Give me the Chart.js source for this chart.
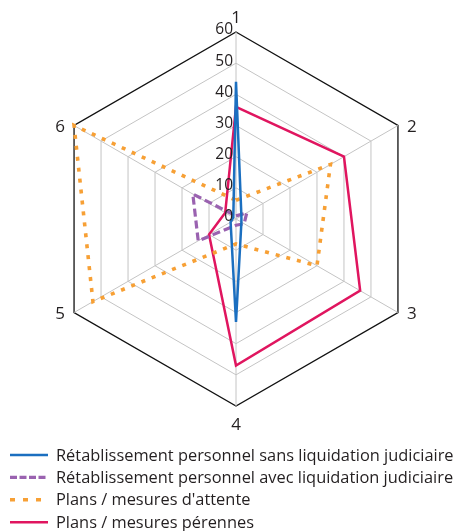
<!DOCTYPE html>
<html>
<head>
<meta charset="utf-8">
<script src="https://cdn.jsdelivr.net/npm/chart.js@4.4.1/dist/chart.umd.min.js"></script>
<style>
  html, body { margin: 0; padding: 0; background: #fff; }
  #wrap { width: 462px; height: 531px; }
</style>
</head>
<body>
<div id="wrap"><canvas id="radar"></canvas></div>
<script>
// axes of the radar
const axisLabels = ['1', '2', '3', '4', '5', '6'];
const tickValues = [0, 10, 20, 30, 40, 50, 60];

// series
const sansLiquidation = [44, 2, 2, 33, 2, 1];
const avecLiquidation = [1, 4, 3, 2, 14, 16];
const mesuresAttente = [6, 35, 30, 8, 53, 60];
const mesuresPerennes = [36, 40, 46, 47, 10, 4];

const seriesNames = [
  'Rétablissement personnel sans liquidation judiciaire',
  'Rétablissement personnel avec liquidation judiciaire',
  "Plans / mesures d'attente",
  'Plans / mesures pérennes'
];

const FONT = '"Open Sans", "Noto Sans", sans-serif';
const TEXT = '#231f20';

// draws tick numbers, axis numbers and the one-per-line legend
const labelsPlugin = {
  id: 'labels',
  afterDraw(chart) {
    const ctx = chart.ctx;
    const r = chart.scales.r;
    ctx.save();
    ctx.fillStyle = TEXT;

    // tick values, to the left of axis 1
    ctx.font = '15.5px ' + FONT;
    ctx.textAlign = 'right';
    ctx.textBaseline = 'middle';
    tickValues.forEach(v => {
      const d = r.getDistanceFromCenterForValue(v);
      ctx.fillText(String(v), r.xCenter - 3, r.yCenter - d - 2);
    });

    // axis numbers
    ctx.font = '17px ' + FONT;
    ctx.textAlign = 'center';
    axisLabels.forEach((lab, i) => {
      const p = r.getPointPosition(i, r.drawingArea);
      let x = p.x, y = p.y;
      if (Math.abs(p.x - r.xCenter) < 1) {
        y += (p.y < r.yCenter) ? -14 : 19;
      } else {
        x += (p.x > r.xCenter) ? 14 : -14;
        y += 2;
      }
      ctx.fillText(lab, x, y);
    });

    // legend
    ctx.font = '16.4px ' + FONT;
    ctx.textAlign = 'left';
    chart.data.datasets.forEach((ds, i) => {
      const y = 455 + i * 22.4;
      ctx.save();
      ctx.strokeStyle = ds.borderColor;
      ctx.lineWidth = ds.borderWidth;
      ctx.setLineDash(ds.legendDash || []);
      ctx.beginPath();
      ctx.moveTo(10, y);
      ctx.lineTo(48, y);
      ctx.stroke();
      ctx.restore();
      ctx.fillStyle = TEXT;
      ctx.fillText(ds.label, 56, y + 1);
    });
    ctx.restore();
  }
};

new Chart(document.getElementById('radar'), {
  type: 'radar',
  data: {
    labels: axisLabels,
    datasets: [
      {
        label: seriesNames[0],
        data: sansLiquidation,
        borderColor: '#1b6fc0',
        borderWidth: 2.5,
        fill: false,
        pointRadius: 0
      },
      {
        label: seriesNames[1],
        data: avecLiquidation,
        borderColor: '#9a62b0',
        borderWidth: 3.2,
        borderDash: [8, 4],
        legendDash: [7, 2.5],
        fill: false,
        pointRadius: 0
      },
      {
        label: seriesNames[2],
        data: mesuresAttente,
        borderColor: '#f7a035',
        borderWidth: 3.6,
        borderDash: [4, 7],
        legendDash: [5, 8],
        fill: false,
        pointRadius: 0
      },
      {
        label: seriesNames[3],
        data: mesuresPerennes,
        borderColor: '#e0155f',
        borderWidth: 2.5,
        fill: false,
        pointRadius: 0
      }
    ]
  },
  options: {
    responsive: true,
    maintainAspectRatio: false,
    animation: false,
    layout: { padding: { left: 49, right: 39, top: 32, bottom: 125 } },
    plugins: {
      legend: { display: false },
      tooltip: { enabled: false }
    },
    scales: {
      r: {
        min: 0,
        max: 60,
        ticks: { display: false, stepSize: 10 },
        pointLabels: { display: false },
        angleLines: { color: '#c4c4c4', lineWidth: 1 },
        grid: {
          color: c => (c.tick && c.tick.value === 60) ? '#111' : '#c4c4c4',
          lineWidth: c => (c.tick && c.tick.value === 60) ? 1.3 : 1
        }
      }
    }
  },
  plugins: [labelsPlugin]
});
</script>
</body>
</html>
